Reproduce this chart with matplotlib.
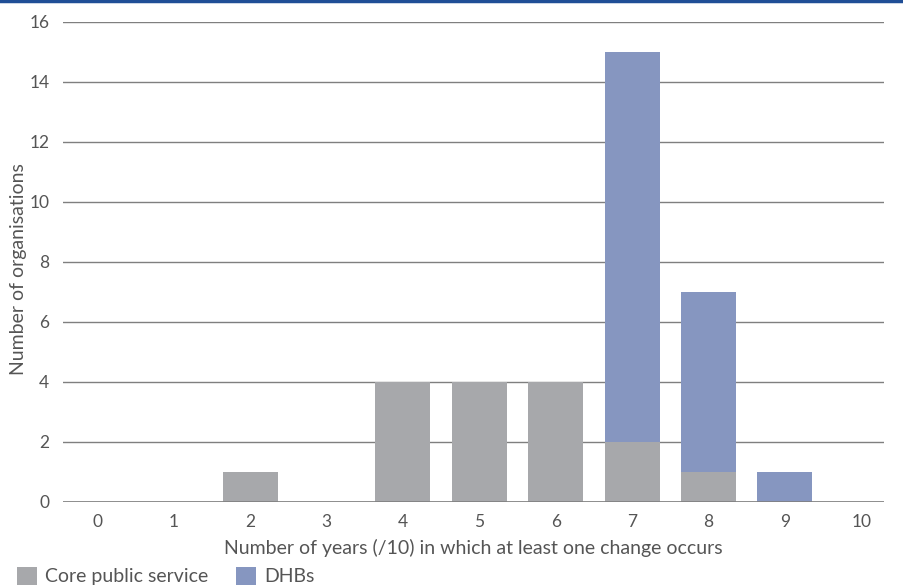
import matplotlib
matplotlib.use("Agg")
import matplotlib.pyplot as plt
from matplotlib.patches import Patch
from matplotlib.lines import Line2D

years = [0, 1, 2, 3, 4, 5, 6, 7, 8, 9, 10]
core_public_service = [0, 0, 1, 0, 4, 4, 4, 2, 1, 0, 0]
dhbs = [0, 0, 0, 0, 0, 0, 0, 13, 6, 1, 0]
y_ticks = [0, 2, 4, 6, 8, 10, 12, 14, 16]

grey = "#a7a8ab"
blue = "#8696c0"
text_col = "#555555"
grid_col = "#7f7f7f"

plt.rcParams["font.family"] = ["Lato", "DejaVu Sans"]

fig = plt.figure(figsize=(9.04, 5.87), dpi=100)
ax = fig.add_axes([0.07, 0.145, 0.908, 0.818])

ax.bar(years, core_public_service, width=0.72, color=grey, zorder=3)
ax.bar(years, dhbs, width=0.72, bottom=core_public_service, color=blue, zorder=3)

ax.set_ylim(0, 16)
ax.set_xlim(-0.445, 10.3)
ax.set_yticks(y_ticks)
ax.set_xticks(years)
ax.set_xticklabels([str(y) for y in years])
ax.yaxis.grid(True, color=grid_col, linewidth=1.0, zorder=0)
ax.set_axisbelow(True)
for s in ax.spines.values():
    s.set_visible(False)
ax.axhline(0, color=grid_col, linewidth=1.2, zorder=4)
ax.tick_params(axis="both", length=0, labelsize=12.5, colors=text_col)
ax.tick_params(axis="x", pad=9)
ax.tick_params(axis="y", pad=10)

ax.set_xlabel("Number of years (/10) in which at least one change occurs",
              fontsize=14, color=text_col, labelpad=6)
ax.set_ylabel("Number of organisations", fontsize=14, color=text_col)
ax.yaxis.set_label_coords(-0.044, 0.485)

handles = [Patch(facecolor=grey, label="Core public service"),
           Patch(facecolor=blue, label="DHBs")]
fig.legend(handles=handles, loc="lower left", bbox_to_anchor=(0.008, -0.014),
           ncol=2, frameon=False, fontsize=14, labelcolor=text_col,
           handlelength=1.05, handleheight=1.05, handletextpad=0.4, columnspacing=1.4,
           borderaxespad=0.1)

fig.add_artist(Line2D([0, 1], [0.998, 0.998], transform=fig.transFigure,
                      color="#1f4e96", linewidth=2.5))

fig.savefig("out.png", dpi=100)
